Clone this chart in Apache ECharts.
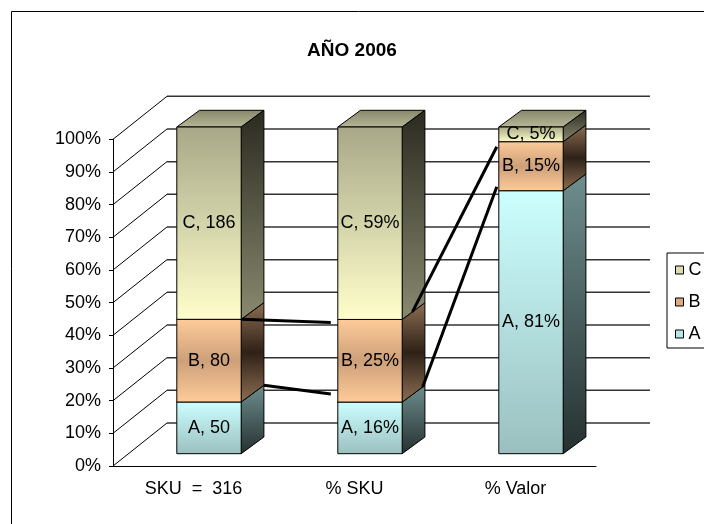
<!DOCTYPE html>
<html>
<head>
<meta charset="utf-8">
<script src="https://cdn.jsdelivr.net/npm/echarts@6/dist/echarts.min.js"></script>
<style>html,body{margin:0;padding:0;background:#fff}#box{width:704px;height:524px}</style>
</head>
<body>
<div id="box"></div>
<script>
var categories = ['SKU  =  316', '% SKU', '% Valor'];
var valuesA = [50, 15.8, 80.5];
var valuesB = [80, 25.3, 15];
var valuesC = [186, 58.9, 4.5];
var showPercent = [false, true, true];
var yTicks = [0, 10, 20, 30, 40, 50, 60, 70, 80, 90, 100];

var FONT = '"Liberation Sans", Arial, sans-serif';
var DEPTH = [54, -43];     // profundidad de las paredes
var SHIFT = [15.5, -12.3]; // plano frontal de las barras
var SIDE = [22.7, -16.7];  // cara lateral
var BAR_W = 0.4;

// porcentajes acumulados (100% apilado)
var pctA = [], pctAB = [];
categories.forEach(function (c, i) {
  var t = valuesA[i] + valuesB[i] + valuesC[i];
  pctA.push(valuesA[i] / t * 100);
  pctAB.push((valuesA[i] + valuesB[i]) / t * 100);
});
var dataA = categories.map(function (c, i) { return [i, 0, pctA[i], valuesA[i]]; });
var dataB = categories.map(function (c, i) { return [i, pctA[i], pctAB[i], valuesB[i]]; });
var dataC = categories.map(function (c, i) { return [i, pctAB[i], 100, valuesC[i]]; });

function grad(stops) {
  if (typeof stops[0] === 'string') stops = [[0, stops[0]], [1, stops[1]]];
  return new echarts.graphic.LinearGradient(0, 0, 0, 1, stops.map(function (s) {
    return {offset: s[0], color: s[1]};
  }));
}

var looks = {
  A: {front: ['#CCFFFF', '#9BBFBF'], side: ['#6E8E8E', '#253030'], top: ['#A6CACA', '#CCFFFF'], legend: '#B8E6E6'},
  B: {front: [[0, '#FFCC99'], [0.5, '#CDA07A'], [1, '#FFCC99']],
      side: [[0, '#8E6E52'], [0.5, '#2E2117'], [1, '#8E6E52']], top: ['#B08B68', '#E0B488'], legend: '#DDA97E'},
  C: {front: ['#A8A888', '#FFFFCC'], side: ['#2A2A20', '#8A8A70'], top: ['#86866A', '#B8B898'], legend: '#DCDCB0'}
};

function barItem(name) {
  var st = looks[name];
  return function (params, api) {
    var i = api.value(0), lo = api.value(1), hi = api.value(2), raw = api.value(3);
    var p0 = api.coord([i, lo]), p1 = api.coord([i, hi]);
    var w = api.size([1, 0])[0] * BAR_W;
    var l = p0[0] + SHIFT[0] - w / 2, r = l + w;
    var yb = p0[1] + SHIFT[1], yt = p1[1] + SHIFT[1];
    var dx = SIDE[0], dy = SIDE[1];
    var txt = name + ', ' + (showPercent[i] ? Math.round(raw) + '%' : raw);
    return {
      type: 'group',
      children: [
        {type: 'polygon', shape: {points: [[l, yt], [r, yt], [r + dx, yt + dy], [l + dx, yt + dy]]},
          style: {fill: grad(st.top), stroke: '#000', lineWidth: 1}},
        {type: 'polygon', shape: {points: [[r, yb], [r + dx, yb + dy], [r + dx, yt + dy], [r, yt]]},
          style: {fill: grad(st.side), stroke: '#000', lineWidth: 1}},
        {type: 'rect', shape: {x: l, y: yt, width: w, height: yb - yt},
          style: {fill: grad(st.front), stroke: '#000', lineWidth: 1}},
        {type: 'text', style: {text: txt, x: (l + r) / 2, y: (yt + yb) / 2, align: 'center',
          verticalAlign: 'middle', font: '18px ' + FONT, fill: '#000'}}
      ]
    };
  };
}

// paredes: diagonales y rejilla del fondo
function wallItem(params, api) {
  var v = api.value(1);
  var p = api.coord([0, v]);
  var cs = params.coordSys;
  var x0 = cs.x, x1 = cs.x + cs.width;
  var by = p[1] + DEPTH[1];
  return {
    type: 'group',
    children: [
      {type: 'line', shape: {x1: x0, y1: p[1], x2: x0 + DEPTH[0], y2: by}, style: {stroke: '#000', lineWidth: 1}},
      {type: 'line', shape: {x1: x0 + DEPTH[0], y1: by, x2: x1 + DEPTH[0], y2: by}, style: {stroke: '#333', lineWidth: 1.5}}
    ]
  };
}

// lineas de serie entre barras
var lineData = [
  [0, pctAB[0], pctAB[1], 0], [0, pctA[0], pctA[1], 1],
  [1, pctAB[1], pctAB[2], 0], [1, pctA[1], pctA[2], 1]
];
var lineGeom = [
  [{t: 0, ex: -7, ey: 3}, {t: 1, ex: -7, ey: -8}],
  [{t: 0.45, ex: -2, ey: 5}, {t: 0.9, ex: -2, ey: -4}]
];
function lineItem(params, api) {
  var i = api.value(0), k = api.value(3);
  var g = lineGeom[i][k];
  var a = api.coord([i, api.value(1)]), b = api.coord([i + 1, api.value(2)]);
  var w = api.size([1, 0])[0] * BAR_W;
  return {
    type: 'line',
    shape: {
      x1: a[0] + SHIFT[0] + w / 2 + g.t * SIDE[0], y1: a[1] + SHIFT[1] + g.t * SIDE[1],
      x2: b[0] + SHIFT[0] - w / 2 + g.ex, y2: b[1] + SHIFT[1] + g.ey
    },
    style: {stroke: '#000', lineWidth: 3}
  };
}

var chart = echarts.init(document.getElementById('box'));
var option = {
  animation: false,
  backgroundColor: '#fff',
  graphic: [{type: 'rect', shape: {x: 11.5, y: 11.5, width: 800, height: 600},
    style: {fill: 'none', stroke: '#000', lineWidth: 1}, z: -10}],
  title: {
    text: 'AÑO 2006', left: 'center', top: 36,
    textStyle: {fontSize: 19, fontWeight: 'bold', color: '#000', fontFamily: FONT}
  },
  legend: {
    orient: 'vertical', left: 667, top: 253,
    data: ['C', 'B', 'A'].map(function (n) {
      return {name: n, itemStyle: {color: looks[n].legend, borderColor: '#000', borderWidth: 1}};
    }),
    icon: 'rect', itemWidth: 8, itemHeight: 8, itemGap: 14,
    padding: [8, 5, 5, 8], borderColor: '#000', borderWidth: 1,
    selectedMode: false,
    textStyle: {fontSize: 18, color: '#000', fontFamily: FONT}
  },
  grid: {left: 113, right: 108, top: 139.3, bottom: 58},
  xAxis: {
    type: 'category', data: categories,
    axisLine: {lineStyle: {color: '#000', width: 1}},
    axisTick: {length: 5, lineStyle: {color: '#000'}},
    axisLabel: {fontSize: 18, color: '#000', fontFamily: FONT, margin: 14}
  },
  yAxis: {
    type: 'value', min: 0, max: 100, interval: 10,
    axisLine: {show: true, lineStyle: {color: '#000', width: 1}},
    axisTick: {show: true, length: 4, lineStyle: {color: '#000'}},
    splitLine: {show: false},
    axisLabel: {formatter: '{value}%', fontSize: 18, color: '#000', fontFamily: FONT, margin: 12}
  },
  series: [
    {type: 'custom', name: 'walls', z: 1, silent: true, renderItem: wallItem,
      data: yTicks.map(function (v) { return [0, v]; })},
    {type: 'custom', name: 'A', z: 2, renderItem: barItem('A'), itemStyle: {color: looks.A.legend},
      encode: {x: 0, y: [1, 2]}, data: dataA},
    {type: 'custom', name: 'B', z: 2, renderItem: barItem('B'), itemStyle: {color: looks.B.legend},
      encode: {x: 0, y: [1, 2]}, data: dataB},
    {type: 'custom', name: 'C', z: 2, renderItem: barItem('C'), itemStyle: {color: looks.C.legend},
      encode: {x: 0, y: [1, 2]}, data: dataC},
    {type: 'custom', name: 'lines', z: 3, silent: true, renderItem: lineItem,
      encode: {x: 0, y: [1, 2]}, data: lineData}
  ]
};
chart.setOption(option);
</script>
</body>
</html>
